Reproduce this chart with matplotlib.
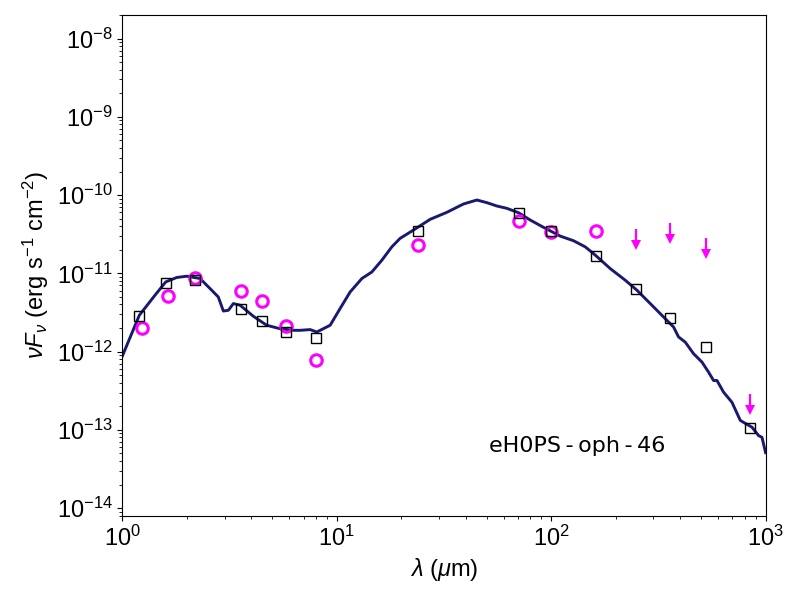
import numpy as np
import matplotlib
matplotlib.use("Agg")
import matplotlib.pyplot as plt

plt.rcParams['font.family'] = ['Liberation Sans', 'DejaVu Sans']
plt.rcParams['mathtext.fontset'] = 'custom'
plt.rcParams['mathtext.rm'] = 'Liberation Sans'
plt.rcParams['mathtext.it'] = 'Liberation Sans:italic'
plt.rcParams['mathtext.bf'] = 'Liberation Sans:bold'

# model SED (micron, erg/s/cm2)
lam_model = [1.0, 1.199, 1.419, 1.593, 1.792, 1.995, 2.302, 2.61, 2.80, 2.957, 3.12,
             3.293, 3.54, 4.08, 4.71, 5.44, 6.27, 6.74, 7.51, 8.07, 9.31, 10.36,
             11.54, 13.09, 14.57, 16.22, 18.06, 19.74, 22.78, 27.26, 32.61, 38.97,
             45.02, 50.1, 55.8, 62.1, 70.4, 79.8, 92.1, 110.2, 127.1, 144.1, 160.5,
             188.5, 221.5, 251.2, 289.7, 334.2, 372.2, 392.6, 422.0, 461.3, 505.0,
             542.0, 572.0, 593.3, 636.8, 696.8, 762.1, 804.0, 864.3, 927.5, 961.8, 1000.0]
flux_model = [8.8e-13, 2.91e-12, 5.25e-12, 7.77e-12, 8.85e-12, 9.19e-12, 8.59e-12, 6.08e-12,
              4.99e-12, 3.30e-12, 3.37e-12, 4.11e-12, 3.91e-12, 2.83e-12, 2.17e-12, 1.96e-12,
              1.87e-12, 1.87e-12, 1.91e-12, 1.78e-12, 2.17e-12, 3.55e-12, 5.78e-12, 8.59e-12,
              1.04e-11, 1.47e-11, 2.18e-11, 2.80e-11, 3.57e-11, 4.90e-11, 6.02e-11, 7.69e-11,
              8.65e-11, 8.0e-11, 7.25e-11, 6.77e-11, 5.95e-11, 4.80e-11, 3.87e-11, 2.99e-11,
              2.61e-11, 2.18e-11, 1.71e-11, 1.15e-11, 8.17e-12, 6.08e-12, 4.11e-12, 2.77e-12,
              2.06e-12, 1.54e-12, 1.32e-12, 9.40e-13, 7.34e-13, 5.46e-13, 4.27e-13, 4.27e-13,
              3.03e-13, 2.25e-13, 1.32e-13, 1.21e-13, 1.08e-13, 8.44e-14, 8.03e-14, 5.11e-14]

# model photometry (squares)
lam_mod_phot = [1.2, 1.59, 2.19, 3.59, 4.5, 5.78, 7.98, 24.0, 70.4, 100, 161, 249, 360, 525, 845]
flux_mod_phot = [2.82e-12, 7.6e-12, 8.2e-12, 3.55e-12, 2.46e-12, 1.8e-12, 1.51e-12,
                 3.44e-11, 5.85e-11, 3.44e-11, 1.69e-11, 6.4e-12, 2.72e-12, 1.13e-12, 1.06e-13]

# observed photometry (circles)
lam_obs = [1.23, 1.63, 2.17, 3.59, 4.5, 5.78, 7.98, 24.0, 70.4, 100, 161]
flux_obs = [2.02e-12, 5.2e-12, 8.7e-12, 5.9e-12, 4.4e-12, 2.12e-12, 7.9e-13,
            2.28e-11, 4.7e-11, 3.33e-11, 3.44e-11]

# upper limits
lam_lim = [249, 360, 525, 845]
flux_lim = [3.65e-11, 4.35e-11, 2.8e-11, 2.83e-13]

fig, ax = plt.subplots(figsize=(8, 6), dpi=100)
fig.subplots_adjust(left=0.153, right=0.957, top=0.975, bottom=0.1405)

ax.plot(lam_model, flux_model, color='#191970', lw=2.1, zorder=2)
ax.plot(lam_obs, flux_obs, 'o', mfc='none', mec='magenta', mew=2.2, ms=8.3, zorder=3)
ax.plot(lam_mod_phot, flux_mod_phot, 's', mfc='none', mec='black', mew=1.0, ms=6.5, zorder=4)

# upper limit arrows: shaft + filled head
flim = np.array(flux_lim)
head = flim * 0.63
ax.vlines(lam_lim, head, flim, color='magenta', lw=1.6, zorder=3)
ax.plot(lam_lim, head, 'v', color='magenta', ms=6.7, mew=0, zorder=3)

ax.set_xscale('log')
ax.set_yscale('log')
ax.set_xlim(1, 1000)
ax.set_ylim(8e-15, 2e-8)
ax.tick_params(labelsize=17)
ax.set_xlabel(r'$\lambda$ ($\mu$m)', fontsize=17)
ax.set_ylabel(r'$\nu F_\nu$ (erg s$^{-1}$ cm$^{-2}$)', fontsize=17)

ax.text(0.570, 0.127, 'eH0PS\u2009-\u2009oph\u2009-\u200946', transform=ax.transAxes,
        ha='left', va='baseline', fontsize=16, family='DejaVu Sans')

fig.savefig('out.png', dpi=100)
